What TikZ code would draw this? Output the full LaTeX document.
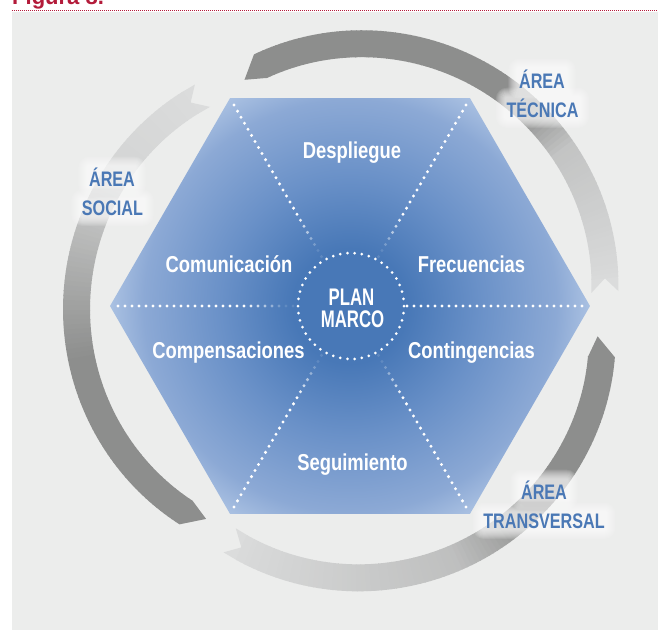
\documentclass[tikz,border=0pt]{standalone}
\usepackage{fontspec}
\setmainfont{Liberation Sans}
\newfontfamily\hexfont{Liberation Sans}[FakeStretch=0.80]
\newfontfamily\planfont{Liberation Sans}[FakeStretch=0.70]
\newfontfamily\areafont{Liberation Sans}[FakeStretch=0.77]
\usetikzlibrary{calc}
\pgfdeclarelayer{glow}
\pgfsetlayers{glow,main}
\definecolor{panel}{HTML}{ECEDEC}
\definecolor{titlered}{HTML}{B31B3A}
\definecolor{arlight}{HTML}{DBDCDC}
\definecolor{ardark}{HTML}{8D8E8D}
\definecolor{areablue}{HTML}{4A78B5}
\definecolor{hx0}{HTML}{4878B7}
\definecolor{hx1}{HTML}{6A91C8}
\definecolor{hx2}{HTML}{8CA9D5}
\definecolor{hx3}{HTML}{AAC1E2}
\pgfdeclareradialshading{hexsh}{\pgfpointorigin}{color(0bp)=(hx0); color(6bp)=(hx0); color(13.5bp)=(hx1); color(21.5bp)=(hx2); color(25bp)=(hx3); color(50bp)=(hx3)}
\tikzset{
  hextxt/.style={text=white, font=\hexfont\bfseries\fontsize{23}{26}\selectfont, inner sep=0pt, anchor=base},
  plantxt/.style={text=white, font=\planfont\bfseries\fontsize{24}{26}\selectfont, inner sep=0pt, anchor=base},
  areatxt/.style={text=areablue, font=\areafont\bfseries\fontsize{21}{24}\selectfont, inner sep=0pt, anchor=base},
  whitedot/.style={fill=white},
  glowbox/.style={fill=white, opacity=0.11},
}
% #1 tail angle, #2 head angle, #3 angle of mid colour, #4 percent dark at mid, #5 angle where fully dark
\newcommand\arrowband[5]{%
  \pgfmathsetmacro\amid{(#1+#2)/2}%
  \pgfmathsetmacro\ahalf{(#2-#1)/2}%
  \fill[arlight] ({px(#1,rout(#1))},{py(#1,rout(#1))})
     -- ({px(#1+3,rout(#1+3)-13.5)},{py(#1+3,rout(#1+3)-13.5)})
     -- ({px(#1,rin(#1))},{py(#1,rin(#1))})
     -- ({px(#1+3.3,rin(#1+3.3))},{py(#1+3.3,rin(#1+3.3))})
     -- ({px(#1+3.3,rout(#1+3.3))},{py(#1+3.3,rout(#1+3.3))}) -- cycle;
  \pgfmathtruncatemacro\ks{#1+3}%
  \pgfmathtruncatemacro\ke{#2-2}%
  \foreach \kk in {\ks,...,\ke}{%
    \pgfmathsetmacro\pp{(\kk<#3) ? ((\kk-#1)/(#3-#1)*#4) : ((\kk<#5) ? (#4+(\kk-#3)/(#5-#3)*(100-#4)) : 100)}%
    \colorlet{sc}{ardark!\pp!arlight}%
    \fill[sc] ({px(\kk,rout(\kk))},{py(\kk,rout(\kk))})
      -- ({px(\kk+1.15,rout(\kk+1.15))},{py(\kk+1.15,rout(\kk+1.15))})
      -- ({px(\kk+1.15,rin(\kk+1.15))},{py(\kk+1.15,rin(\kk+1.15))})
      -- ({px(\kk,rin(\kk))},{py(\kk,rin(\kk))}) -- cycle;
  }%
  \fill[ardark] ({px(#2-1,rout(#2-1))},{py(#2-1,rout(#2-1))})
     -- ({px(#2,rout(#2))},{py(#2,rout(#2))})
     -- ({px(#2+4,rin(#2)+7)},{py(#2+4,rin(#2)+7)})
     -- ({px(#2-1,rin(#2-1))},{py(#2-1,rin(#2-1))}) -- cycle;
}
% soft white glow behind the label node #1
\newcommand\glowof[1]{%
  \begin{pgfonlayer}{glow}
  \foreach \ge in {0,1,...,9}{%
    \fill[glowbox, rounded corners={\ge*1pt+2pt}] ($(#1.south west)+(-\ge-1.5,\ge+1.5)$) rectangle ($(#1.north east)+(\ge+1.5,-\ge-1.5)$);
  }%
  \end{pgfonlayer}%
}
\begin{document}
\begin{tikzpicture}[x=1pt,y=-1pt,
  declare function={uu(\va)=(\va-\amid)/\ahalf; rout(\va)=284-12*uu(\va)*uu(\va); rin(\va)=rout(\va)-27;
    px(\va,\vr)=347+\vr*cos(\va); py(\va,\vr)=310-\vr*sin(\va);}]
\useasboundingbox (0,0) rectangle (658,630);
\begin{pgfonlayer}{glow}
\clip (0,0) rectangle (658,630);
\fill[white] (0,0) rectangle (658,630);
\fill[panel] (12,12) rectangle (658,630);
\end{pgfonlayer}
\clip (0,0) rectangle (658,630);
% title and rule
\node[anchor=base west, inner sep=0pt, text=titlered, font=\bfseries\fontsize{22}{26}\selectfont] (title) at (12,4) {Figura 8.};
\coordinate (ruleA) at (12,10);
\coordinate (ruleB) at (658,10);
\draw[titlered, line width=0.9pt, dash pattern=on 1pt off 1pt] (ruleA) -- (ruleB);
% arrows
\begin{pgfonlayer}{glow}
\arrowband{4}{110}{36}{31}{48}
\arrowband{124}{232}{148}{9}{190}
\arrowband{243}{350}{293}{37}{312}
\end{pgfonlayer}
% hexagon
\coordinate (hc) at (350,306);
\coordinate (vR) at (590,306);
\coordinate (vTR) at (470,98.2);
\coordinate (vTL) at (230,98.2);
\coordinate (vL) at (110,306);
\coordinate (vBL) at (230,513.8);
\coordinate (vBR) at (470,513.8);
\begin{scope}
  \clip (vR) -- (vTR) -- (vTL) -- (vL) -- (vBL) -- (vBR) -- cycle;
  \shade[shading=hexsh] (hc) circle[radius=240pt];
\end{scope}
% dotted spokes
\foreach \ph/\fd in {0/0,60/1,120/1,180/1,240/1,300/1}{
  \foreach \j in {0,...,25}{
    \pgfmathsetmacro\rr{232-7*\j}
    \pgfmathsetmacro\op{\fd==0 ? 1 : max(0.12,min(1,(\rr-60)/45))}
    \fill[whitedot,opacity=\op] ({350+\rr*cos(\ph)},{306-\rr*sin(\ph)}) circle[radius=1.65pt];
  }
}
% dotted centre circle
\foreach \i in {0,...,45}{
  \fill[whitedot] ({351+53*cos(\i*360/46)},{306-53*sin(\i*360/46)}) circle[radius=1.5pt];
}
% texts in hexagon
\node[hextxt] (despliegue) at (352,158) {Despliegue};
\node[hextxt] (comunicacion) at (229,272) {Comunicación};
\node[hextxt] (frecuencias) at (471.5,272) {Frecuencias};
\node[hextxt] (compensaciones) at (228.5,358) {Compensaciones};
\node[hextxt] (contingencias) at (471.5,358) {Contingencias};
\node[hextxt] (seguimiento) at (352.5,470) {Seguimiento};
\node[plantxt] (plan) at (351.5,305.5) {PLAN};
\node[plantxt] (marco) at (352.5,327.3) {MARCO};
% labels
\node[areatxt] (tec1) at (542,88) {ÁREA};
\node[areatxt] (tec2) at (542.5,117) {TÉCNICA};
\node[areatxt] (soc1) at (112,186) {ÁREA};
\node[areatxt] (soc2) at (112.5,215) {SOCIAL};
\node[areatxt] (tra1) at (544,499) {ÁREA};
\node[areatxt] (tra2) at (544,528) {TRANSVERSAL};
\glowof{tec1}\glowof{tec2}
\glowof{soc1}\glowof{soc2}
\glowof{tra1}\glowof{tra2}
\end{tikzpicture}
\end{document}
